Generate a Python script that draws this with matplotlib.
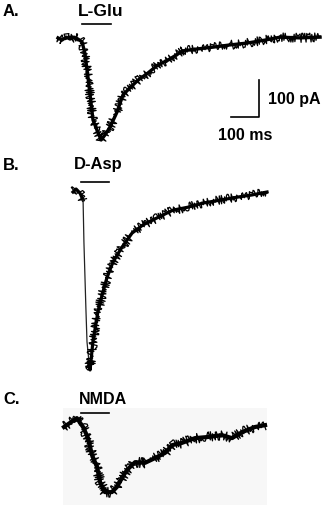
import matplotlib
matplotlib.use("Agg")
from matplotlib import pyplot as plt
from matplotlib.patches import Rectangle

plt.rcParams['font.family'] = ['Liberation Sans', 'DejaVu Sans']

# traces: time (ms) and current (pA), baseline = 0
glu_t = [0, 14, 29, 43, 57, 71, 86, 96, 107, 118, 125, 139, 154, 168, 186, 211, 232,
         257, 286, 321, 357, 393, 446, 496, 554, 614, 675, 739, 793, 864, 936]
glu_i = [3, -3, 5, 0, 5, 0, -8, -38, -103, -173, -219, -246, -273, -259, -238, -197, -151,
         -132, -111, -92, -70, -57, -32, -27, -22, -16, -11, -3, 5, 3, 5]

asp_t = [0, 11, 25, 36, 39, 46, 50, 57, 61, 71, 89, 104, 121, 143, 175, 211,
         250, 300, 357, 411, 464, 525, 586, 639, 693]
asp_i = [0, 8, -3, -22, -135, -313, -405, -459, -481, -405, -324, -278, -232, -189, -149, -111,
         -89, -70, -49, -41, -30, -22, -14, -8, 0]

nmda_t = [0, 21, 46, 68, 86, 100, 118, 129, 146, 171, 189, 207, 225, 254, 289, 325,
          361, 386, 421, 468, 514, 564, 600, 636, 682, 718]
nmda_i = [0, 11, 24, 0, -30, -76, -108, -149, -176, -176, -162, -138, -116, -95, -97, -84,
          -70, -49, -43, -30, -27, -22, -30, -14, 0, 5]

# agonist application bars (ms)
glu_bar = [86, 189]
asp_bar = [29, 129]
nmda_bar = [61, 161]

W, H = 328, 512
MS_PX = 100 / 28.0   # ms per pixel
PA_PX = 100 / 37.0   # pA per pixel

fig = plt.figure(figsize=(W / 100, H / 100), dpi=100)


def panel(top, bottom, x0, y0):
    # axes band between pixel rows top..bottom, trace origin at pixel (x0, y0)
    ax = fig.add_axes([0, 1 - bottom / H, 1, (bottom - top) / H])
    ax.set_xlim(-x0 * MS_PX, (W - x0) * MS_PX)
    ax.set_ylim(-(bottom - y0) * PA_PX, (y0 - top) * PA_PX)
    ax.axis('off')
    return ax


def trace(ax, t, i, lw, noise=4.5):
    # solid core plus a jagged rendering on top to look like recording noise
    ax.plot(t, i, color='black', lw=lw)
    line, = ax.plot(t, i, color='black', lw=0.9)
    line.set_sketch_params(scale=noise, length=1.0, randomness=3)


# A. L-Glu
ax = panel(0, 160, 58, 39)
trace(ax, glu_t, glu_i, 2.4)
ax.plot(glu_bar, [40, 40], color='black', lw=1.2)
ax.plot([618, 718, 718], [-211, -211, -111], color='black', lw=1.2)
ax.text(750, -163, '100 pA', fontsize=11.5, fontweight='bold', va='center', ha='left')
ax.text(668, -262, '100 ms', fontsize=11.5, fontweight='bold', va='center', ha='center')

# B. D-Asp
ax = panel(160, 385, 73, 192)
trace(ax, asp_t[:4], asp_i[:4], 2.3)
ax.plot(asp_t[3:9], asp_i[3:9], color='#222222', lw=0.9)
trace(ax, asp_t[7:], asp_i[7:], 2.3)
ax.plot(asp_bar, [27, 27], color='black', lw=1.2)

# C. NMDA
ax = panel(385, 512, 64, 427)
ax.add_patch(Rectangle((-4, -211), 729, 262, facecolor='#f7f7f7', edgecolor='none', zorder=0))
trace(ax, nmda_t, nmda_i, 3.0, noise=5.0)
ax.plot(nmda_bar, [38, 38], color='black', lw=1.2)

for lab, x, y, fs in [('A.', 3, 12, 12), ('L-Glu', 78, 11, 12.5), ('B.', 3, 165, 12),
                      ('D-Asp', 74, 165, 12), ('C.', 3, 399, 12), ('NMDA', 79, 399, 11.5)]:
    fig.text(x / W, 1 - y / H, lab, fontsize=fs, fontweight='bold', va='center', ha='left')

fig.savefig('out.png', dpi=100)
